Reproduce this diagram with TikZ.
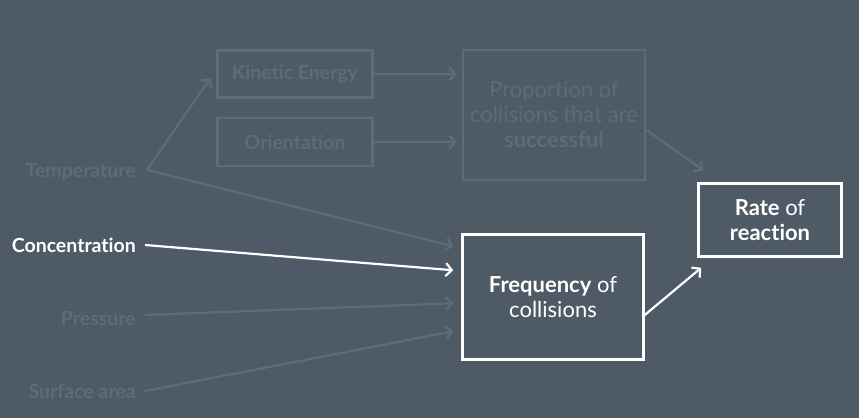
\documentclass[tikz,border=0pt]{standalone}
\usepackage{fontspec}
\setmainfont{Lato}[RawFeature={-liga;-dlig}]
\usetikzlibrary{arrows.meta}
\definecolor{bg}{HTML}{4E5A65}
\definecolor{fade}{HTML}{5F6B76}
\begin{document}
\begin{tikzpicture}[x=1pt,y=-1pt,
  box/.style={draw=#1,line width=2.5pt,inner sep=0pt,align=center},
  lbl/.style={text=#1,font=\fontsize{19.5}{22}\selectfont\bfseries,inner sep=0pt},
  arr/.style={draw=#1,line width=2.2pt,-{Straight Barb[length=6pt,width=13pt]}},
  btext/.style={font=\fontsize{22}{25}\selectfont},
  stext/.style={font=\fontsize{19.5}{22}\selectfont}]
\fill[bg] (0,0) rectangle (859,418);
\useasboundingbox (0,0) rectangle (859,418);
\node[box=fade,minimum width=155pt,minimum height=47pt,text=fade,stext] (ke) at (295,74) {\bfseries Kinetic Energy};
\node[box=fade,minimum width=155pt,minimum height=48pt,text=fade,stext] (or) at (295,142) {\bfseries Orientation};
\node[box=fade,minimum width=182pt,minimum height=130pt,text=fade,btext] (pr) at (554,115) {\fontseries{l}\selectfont Proportion of\\\fontseries{l}\selectfont collisions that are\\\bfseries successful};
\node[box=white,minimum width=143pt,minimum height=73pt,text=white,btext] (ra) at (770,220) {\textbf{Rate} \fontseries{l}\selectfont of\\\bfseries reaction};
\node[box=white,minimum width=181pt,minimum height=125pt,text=white,btext] (fr) at (553,297) {\textbf{Frequency} \fontseries{l}\selectfont of\\\fontseries{l}\selectfont collisions};
\node[lbl=fade,anchor=east] (te) at (136,172) {Temperature};
\node[lbl=white,anchor=east] (co) at (136,245) {Concentration};
\node[lbl=fade,anchor=east] (pe) at (136,319) {Pressure};
\node[lbl=fade,anchor=east] (sa) at (136,391) {Surface area};
\coordinate (tj) at (147,170);
\draw[arr=fade] (tj) -- ([shift={(-6,4)}]ke.west);
\draw[arr=fade] (tj) -- ([shift={(-8,13)}]fr.north west);
\draw[arr=fade] (ke.east) -- ([xshift=-5]pr.west |- ke.east);
\draw[arr=fade] (or.east) -- ([xshift=-5]pr.west |- or.east);
\draw[arr=fade] ([yshift=-15]pr.east) -- ([shift={(6,-12)}]ra.north west);
\draw[arr=white] ([xshift=9]co.east) -- ([shift={(-8,37)}]fr.north west);
\draw[arr=fade] ([xshift=9,yshift=4]pe.east) -- ([shift={(-8,70)}]fr.north west);
\draw[arr=fade] ([xshift=9]sa.east) -- ([shift={(-8,98)}]fr.north west);
\draw[arr=white] ([yshift=-18]fr.east) -- ([shift={(4,10)}]ra.south west);
\end{tikzpicture}
\end{document}
